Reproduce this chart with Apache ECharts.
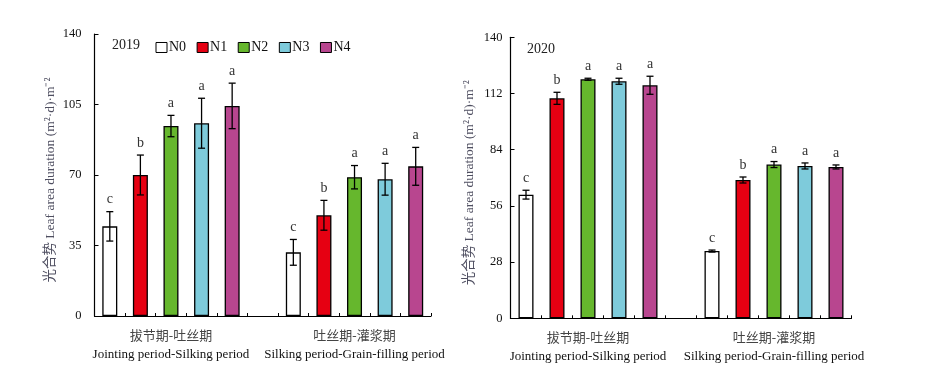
<!DOCTYPE html>
<html>
<head>
<meta charset="utf-8">
<script src="https://cdn.jsdelivr.net/npm/echarts@6/dist/echarts.min.js"></script>
<style>html,body{margin:0;padding:0;background:#fff}#c{width:930px;height:387px}</style>
</head>
<body>
<div id="c"></div>
<script>
// ---- data ----
const treatments = ['N0', 'N1', 'N2', 'N3', 'N4'];
const periodsCN = ['拔节期-吐丝期', '吐丝期-灌浆期'];
const periodsEN = ['Jointing period-Silking period', 'Silking period-Grain-filling period'];
const slots = ['JS-N0', 'JS-N1', 'JS-N2', 'JS-N3', 'JS-N4', 'gap', 'SG-N0', 'SG-N1', 'SG-N2', 'SG-N3', 'SG-N4'];
const years = ['2019', '2020'];

const mean2019JS = [44.5, 70.0, 94.3, 95.7, 104.3];
const err2019JS  = [7.3, 9.9, 5.3, 12.4, 11.3];
const sig2019JS  = ['c', 'b', 'a', 'a', 'a'];
const mean2019SG = [31.6, 50.0, 68.9, 67.9, 74.3];
const err2019SG  = [6.4, 7.4, 5.8, 7.9, 9.4];
const sig2019SG  = ['c', 'b', 'a', 'a', 'a'];

const mean2020JS = [61.6, 109.6, 119.1, 118.1, 116.1];
const err2020JS  = [2.2, 3.0, 0.5, 1.5, 4.5];
const sig2020JS  = ['c', 'b', 'a', 'a', 'a'];
const mean2020SG = [33.5, 68.9, 76.6, 75.9, 75.4];
const err2020SG  = [0.5, 1.5, 1.5, 1.5, 1.0];
const sig2020SG  = ['c', 'b', 'a', 'a', 'a'];

const yTicks2019 = { min: 0, max: 140, interval: 35 };
const yTicks2020 = { min: 0, max: 140, interval: 28 };

// ---- styles ----
const colors = ['#ffffff', '#e60012', '#66b72d', '#7ecbdb', '#b8468f'];
const SERIF = "'Liberation Serif', 'Times New Roman', 'Noto Sans CJK SC', serif";
const nameColor = '#4e4e60';

function barSeries(panel, meanJS, meanSG) {
  return treatments.map((t, k) => {
    const data = slots.map(() => '-');
    data[k] = meanJS[k];
    data[6 + k] = meanSG[k];
    return {
      name: t, type: 'bar', xAxisIndex: panel, yAxisIndex: panel,
      stack: 'p' + panel, barWidth: 15, data: data,
      itemStyle: { color: colors[k], borderColor: '#000', borderWidth: 1.3 },
      emphasis: { disabled: true }
    };
  });
}

function errSeries(panel, meanJS, errJS, sigJS, meanSG, errSG, sigSG) {
  const data = [];
  for (let k = 0; k < 5; k++) {
    data.push([k, meanJS[k] - errJS[k], meanJS[k] + errJS[k], sigJS[k]]);
    data.push([6 + k, meanSG[k] - errSG[k], meanSG[k] + errSG[k], sigSG[k]]);
  }
  return {
    type: 'custom', xAxisIndex: panel, yAxisIndex: panel, z: 5,
    data: data, silent: true,
    renderItem: function (params, api) {
      const x = api.value(0);
      const lo = api.coord([x, api.value(1)]);
      const hi = api.coord([x, api.value(2)]);
      const cx = lo[0], cap = 3.5;
      const ls = { stroke: '#000', lineWidth: 1.3 };
      return {
        type: 'group',
        children: [
          { type: 'line', shape: { x1: cx, y1: lo[1], x2: cx, y2: hi[1] }, style: ls },
          { type: 'line', shape: { x1: cx - cap, y1: lo[1], x2: cx + cap, y2: lo[1] }, style: ls },
          { type: 'line', shape: { x1: cx - cap, y1: hi[1], x2: cx + cap, y2: hi[1] }, style: ls },
          { type: 'text', style: { text: data[params.dataIndex][3], x: cx, y: hi[1] - 12,
              align: 'center', verticalAlign: 'middle', font: '14px ' + SERIF, fill: '#333' } }
        ]
      };
    }
  };
}

function xAxis(panel) {
  return {
    type: 'category', gridIndex: panel, data: slots, boundaryGap: true,
    axisLine: { lineStyle: { color: '#000', width: 1.2 } },
    axisTick: { show: true, inside: true, length: 3, interval: 0, lineStyle: { color: '#000', width: 1 } },
    axisLabel: {
      interval: 0, margin: 11,
      formatter: function (v, i) {
        if (i === 2) return '{cn|' + periodsCN[0] + '}\n{en|' + periodsEN[0] + '}';
        if (i === 8) return '{cn|' + periodsCN[1] + '}\n{en|' + periodsEN[1] + '}';
        return '';
      },
      rich: {
        cn: { fontFamily: SERIF, fontSize: 13, color: '#444', lineHeight: 19 },
        en: { fontFamily: SERIF, fontSize: 13, color: '#111', lineHeight: 17 }
      }
    },
    splitLine: { show: false }
  };
}

function yAxis(panel, ticks, labelMargin, gap) {
  return {
    type: 'value', gridIndex: panel, min: ticks.min, max: ticks.max, interval: ticks.interval,
    name: '光合势 Leaf area duration (m²·d)·m⁻²',
    nameLocation: 'middle', nameRotate: 90, nameGap: gap,
    nameTextStyle: { fontFamily: SERIF, fontSize: 13.5, color: nameColor, padding: [0, 10, 0, 0] },
    axisLine: { show: true, lineStyle: { color: '#000', width: 1.2 } },
    axisTick: { show: true, inside: true, length: 4, lineStyle: { color: '#000', width: 1 } },
    axisLabel: { fontFamily: SERIF, fontSize: 12.5, color: '#111', margin: labelMargin },
    splitLine: { show: false }
  };
}

const option = {
  animation: false,
  backgroundColor: '#fff',
  grid: [
    { left: 94.5, top: 34, width: 336.5, height: 282 },
    { left: 510.5, top: 37.3, width: 341, height: 281 }
  ],
  legend: {
    data: treatments, left: 155.5, top: 40.5, padding: 0,
    itemWidth: 11, itemHeight: 10, itemGap: 10.5, icon: 'rect',
    textStyle: { fontFamily: SERIF, fontSize: 14, color: '#111', padding: [0, 0, 0, -3] },
    itemStyle: { borderColor: '#000', borderWidth: 1 },
    selectedMode: false
  },
  graphic: [
    { type: 'text', left: 112, top: 38.5, style: { text: years[0], font: '14px ' + SERIF, fill: '#222' } },
    { type: 'text', left: 527, top: 42.5, style: { text: years[1], font: '14px ' + SERIF, fill: '#222' } }
  ],
  xAxis: [xAxis(0), xAxis(1)],
  yAxis: [yAxis(0, yTicks2019, 13, 37), yAxis(1, yTicks2020, 8, 34)],
  series: [].concat(
    barSeries(0, mean2019JS, mean2019SG),
    barSeries(1, mean2020JS, mean2020SG),
    [errSeries(0, mean2019JS, err2019JS, sig2019JS, mean2019SG, err2019SG, sig2019SG),
     errSeries(1, mean2020JS, err2020JS, sig2020JS, mean2020SG, err2020SG, sig2020SG)]
  )
};

const chart = echarts.init(document.getElementById('c'), null, { renderer: 'canvas' });
chart.setOption(option);
</script>
</body>
</html>
